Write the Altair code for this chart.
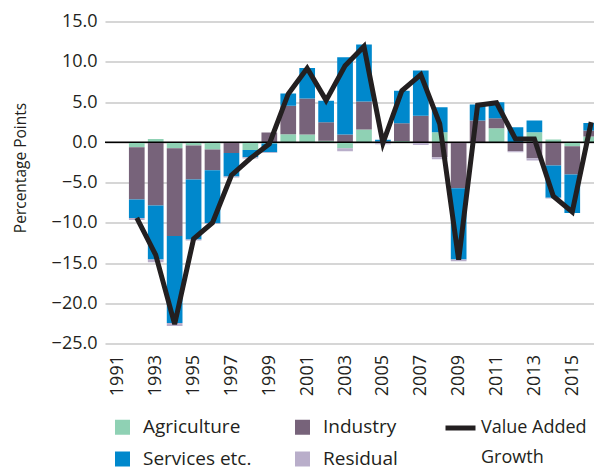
import altair as alt
import pandas as pd

years = list(range(1992, 2017))
agriculture = [-0.62, 0.41, -0.75, -0.41, -0.91, -0.05, -0.95, -0.15, 1.0, 0.95, 0.2, -0.75, 1.57,
               0.0, 0.15, 0.0, 1.24, 0.0, 0.0, 1.74, 0.0, 1.24, 0.33, -0.5, 0.7]
industry = [-6.5, -7.87, -10.9, -4.22, -2.57, -1.28, 0.0, 1.2, 3.52, 4.5, 2.28, 0.95, 3.48,
            0.1, 2.2, 3.3, -1.86, -5.71, 2.69, 1.24, -1.12, -1.99, -2.9, -3.52, 0.75]
services = [-2.28, -6.7, -10.8, -7.45, -6.58, -2.94, -0.91, -1.1, 1.53, 3.77, 2.69, 9.6, 7.08,
            0.2, 4.06, 5.6, 3.1, -8.86, 1.99, 1.99, 1.86, 1.45, -4.0, -4.76, 0.95]
residual = [-0.25, -0.33, -0.37, -0.12, -0.1, -0.12, -0.15, -0.1, 0.0, 0.0, -0.1, -0.37, 0.0,
            -0.25, 0.0, -0.33, -0.25, -0.2, 0.0, 0.0, -0.12, -0.29, -0.1, 0.0, 0.0]
value_added = [-9.4, -14.0, -22.6, -12.0, -10.0, -4.1, -2.0, -0.2, 6.0, 9.2, 5.2, 9.5, 11.9,
               -0.1, 6.4, 8.4, 2.3, -14.6, 4.6, 4.9, 0.4, 0.4, -6.7, -8.65, 2.5]

series_names = ["Agriculture", "Industry", "Services etc.", "Residual"]
series_colors = ["#8FD1B4", "#77637A", "#0088CC", "#B9AECA"]
line_name = "Value Added Growth"
x_domain = [1990.586, 2015.884]
tick_years = list(range(1991, 2016, 2))
y_ticks = list(range(-25, 20, 5))

rows = []
for i, yr in enumerate(years):
    for k, (name, vals) in enumerate(zip(series_names, [agriculture, industry, services, residual])):
        rows.append({"year": yr, "series": name, "order": k, "value": vals[i]})
bars_df = pd.DataFrame(rows)
line_df = pd.DataFrame({"year": years, "value": value_added, "series": [line_name] * len(years)})
zero_df = pd.DataFrame({"value": [0]})

FONT = "Open Sans"
TXT = "#231F20"

x_enc = alt.X(
    "year:Q",
    scale=alt.Scale(domain=x_domain, nice=False, zero=False),
    axis=alt.Axis(values=tick_years, format="d", labelAngle=270, domain=False, ticks=False,
                  labelPadding=11, grid=False),
    title=None,
)
y_axis = alt.Axis(values=y_ticks, format=".1f", domain=False, ticks=False, grid=True,
                  gridColor="#C8C8C8", gridWidth=1.5, labelPadding=8,
                  titleAngle=270, titleX=-85, titleY=146, titleBaseline="middle",
                  titleAlign="center", titleFontSize=15.5, titleFontWeight="normal")
y_scale = alt.Scale(domain=[-25, 15], nice=False, zero=False)

bars = alt.Chart(bars_df).mark_bar(size=15.7, clip=True).encode(
    x=x_enc,
    y=alt.Y("value:Q", stack="zero", scale=y_scale, axis=y_axis, title="Percentage Points"),
    color=alt.Color("series:N", scale=alt.Scale(domain=series_names, range=series_colors),
                    legend=alt.Legend(title=None, orient="none", legendX=8, legendY=396,
                                      columns=2, direction="horizontal",
                                      symbolType="square", symbolSize=225, symbolStrokeWidth=0,
                                      labelOffset=11, columnPadding=41, rowPadding=12,
                                      labelFontSize=19)),
    order=alt.Order("order:Q"),
)

zero = alt.Chart(zero_df).mark_rule(color="black", strokeWidth=1.5).encode(
    y=alt.Y("value:Q", scale=y_scale, axis=y_axis, title="Percentage Points"),
)

line = alt.Chart(line_df).mark_line(strokeWidth=5, strokeJoin="miter", clip=True).encode(
    x=x_enc,
    y=alt.Y("value:Q", scale=y_scale, axis=y_axis, title="Percentage Points"),
    stroke=alt.Stroke("series:N", scale=alt.Scale(domain=[line_name], range=[TXT]),
                      legend=alt.Legend(title=None, orient="none", legendX=338, legendY=389,
                                        symbolType="stroke", symbolSize=900,
                                        symbolStrokeWidth=5, labelOffset=3,
                                        labelFontSize=18,
                                        labelExpr="['Value Added', 'Growth']")),
)

chart = alt.layer(bars, zero, line).properties(
    width=489, height=322,
    padding={"left": 97, "top": 13.5, "right": 0, "bottom": 126},
    autosize=alt.AutoSizeParams(type="none"),
).configure(
    style={"guide-label": {"lineHeight": 30}},
).configure_view(stroke=None).configure_axis(
    labelFont=FONT, labelFontSize=18, labelColor=TXT, titleFont=FONT, titleColor=TXT,
).configure_legend(
    labelFont=FONT, labelColor=TXT, padding=0,
)

chart.save("out.html", embed_options={"renderer": "svg", "actions": False})
